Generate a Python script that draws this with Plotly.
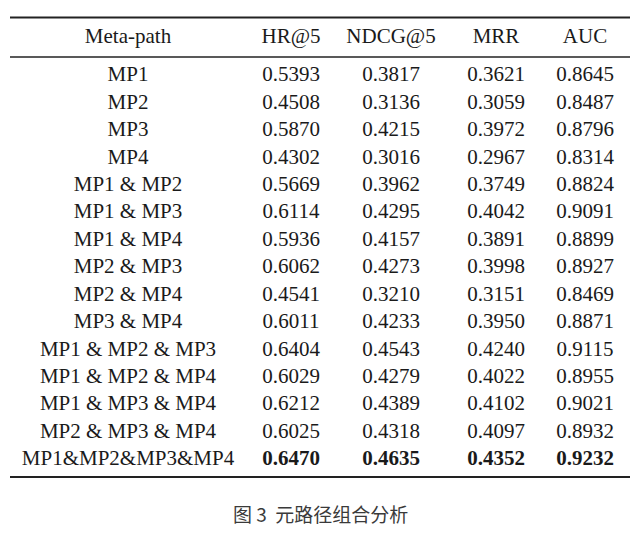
import plotly.graph_objects as go

# table data
meta_paths = ["MP1", "MP2", "MP3", "MP4",
              "MP1 & MP2", "MP1 & MP3", "MP1 & MP4",
              "MP2 & MP3", "MP2 & MP4", "MP3 & MP4",
              "MP1 & MP2 & MP3", "MP1 & MP2 & MP4",
              "MP1 & MP3 & MP4", "MP2 & MP3 & MP4",
              "MP1&MP2&MP3&MP4"]
hr5 = [0.5393, 0.4508, 0.5870, 0.4302, 0.5669, 0.6114, 0.5936, 0.6062,
       0.4541, 0.6011, 0.6404, 0.6029, 0.6212, 0.6025, 0.6470]
ndcg5 = [0.3817, 0.3136, 0.4215, 0.3016, 0.3962, 0.4295, 0.4157, 0.4273,
         0.3210, 0.4233, 0.4543, 0.4279, 0.4389, 0.4318, 0.4635]
mrr = [0.3621, 0.3059, 0.3972, 0.2967, 0.3749, 0.4042, 0.3891, 0.3998,
       0.3151, 0.3950, 0.4240, 0.4022, 0.4102, 0.4097, 0.4352]
auc = [0.8645, 0.8487, 0.8796, 0.8314, 0.8824, 0.9091, 0.8899, 0.8927,
       0.8469, 0.8871, 0.9115, 0.8955, 0.9021, 0.8932, 0.9232]
headers = ["Meta-path", "HR@5", "NDCG@5", "MRR", "AUC"]
caption = "图 3  元路径组合分析"

# layout (pixel coords)
W, H = 640, 535
col_x = [128, 291, 391, 496, 585]
header_y = 38
row_y0 = 76
row_pitch = 27.43
row_y = [row_y0 + i * row_pitch for i in range(len(meta_paths))]
FONT = "Liberation Serif"
COLOR = "#1a1a1a"

fig = go.Figure()

# header
fig.add_trace(go.Scatter(
    x=col_x, y=[header_y] * len(headers), text=headers, mode="text",
    textfont=dict(family=FONT, size=21, color=COLOR), hoverinfo="skip"))

# meta-path column
fig.add_trace(go.Scatter(
    x=[col_x[0]] * len(meta_paths), y=row_y, text=meta_paths, mode="text",
    textfont=dict(family=FONT, size=21, color=COLOR), hoverinfo="skip"))

# metric columns, best value in bold
for cx, vals in zip(col_x[1:], [hr5, ndcg5, mrr, auc]):
    best = max(vals)
    labels = [f"<b>{v:.4f}</b>" if v == best else f"{v:.4f}" for v in vals]
    fig.add_trace(go.Scatter(
        x=[cx] * len(vals), y=row_y, text=labels, mode="text",
        textfont=dict(family=FONT, size=21, color=COLOR), hoverinfo="skip"))

# booktabs-style rules
for y, w in [(17.5, 2), (57, 1.5), (477, 2)]:
    fig.add_shape(type="line", x0=10, x1=630, y0=y, y1=y, xref="x", yref="y",
                  line=dict(color="#222222", width=w))

fig.add_annotation(x=W / 2, y=513, xref="x", yref="y", text=caption,
                   showarrow=False,
                   font=dict(family="Noto Sans CJK SC", size=19, color="#3a3a3a"))

fig.update_xaxes(range=[0, W], visible=False, fixedrange=True)
fig.update_yaxes(range=[H, 0], visible=False, fixedrange=True)
fig.update_layout(width=W, height=H, margin=dict(l=0, r=0, t=0, b=0),
                  showlegend=False, plot_bgcolor="white", paper_bgcolor="white")

# drop the default body margin so the figure sits at the page origin
fig.write_html("out.html", config={"displayModeBar": False},
               post_script="document.body.style.margin='0';")
